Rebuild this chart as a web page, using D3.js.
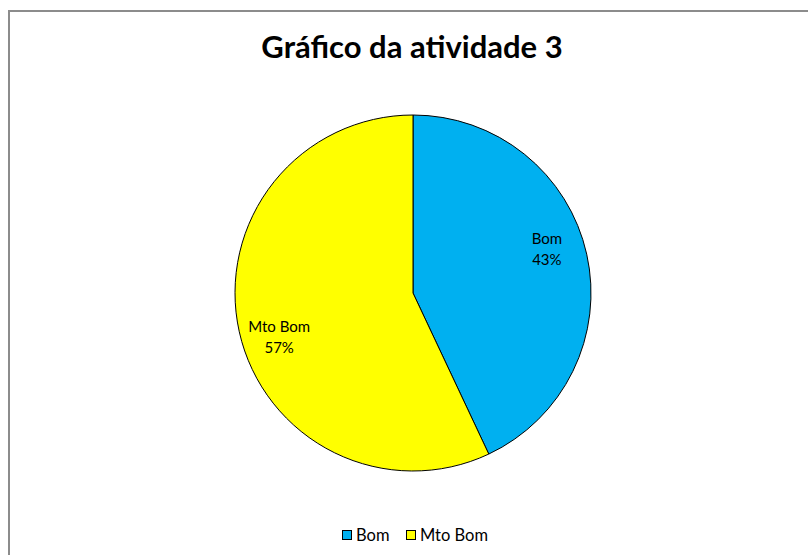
<!DOCTYPE html>
<html>
<head>
<meta charset="utf-8">
<script src="https://cdn.jsdelivr.net/npm/d3@7"></script>
<style>
  html, body { margin: 0; padding: 0; background: #fff; }
  svg { display: block; }
</style>
</head>
<body>
<svg id="chart" width="808" height="555"></svg>
<script>
// Chart data
const categories = ["Bom", "Mto Bom"];
const values = [43, 57];
const percentLabels = ["43%", "57%"];
const colors = ["#00B0F0", "#FFFF00"];
const title = "Gráfico da atividade 3";

const svg = d3.select("#chart");
const W = 808, H = 555;
const font = "Lato, 'Open Sans', sans-serif";

// Chart area frame
svg.append("rect")
  .attr("x", 9).attr("y", 11)
  .attr("width", W).attr("height", H)
  .attr("fill", "#fff")
  .attr("stroke", "#8c8c8c")
  .attr("stroke-width", 2);

// Title
svg.append("text")
  .attr("x", 412).attr("y", 58)
  .attr("text-anchor", "middle")
  .attr("font-family", font)
  .attr("font-weight", "bold")
  .attr("font-size", 31)
  .attr("fill", "#000")
  .text(title);

// Pie
const cx = 413, cy = 293, R = 178;
const pie = d3.pie().sort(null).value(d => d)(values);
const arc = d3.arc().innerRadius(0).outerRadius(R);
const g = svg.append("g").attr("transform", `translate(${cx},${cy})`);

g.selectAll("path.slice")
  .data(pie)
  .join("path")
  .attr("class", "slice")
  .attr("d", arc)
  .attr("fill", (d, i) => colors[i])
  .attr("stroke", "#000")
  .attr("stroke-width", 1);

// Data labels: category name above percentage
const labelR = 141, labelShift = 0.1;
const labels = g.selectAll("g.label")
  .data(pie)
  .join("g")
  .attr("class", "label")
  .attr("transform", d => {
    const a = (d.startAngle + d.endAngle) / 2 - labelShift;
    return `translate(${labelR * Math.sin(a)},${-labelR * Math.cos(a)})`;
  });

labels.append("text")
  .attr("y", -5)
  .attr("text-anchor", "middle")
  .attr("font-family", font)
  .attr("font-size", 15)
  .attr("fill", "#000")
  .text((d, i) => categories[i]);

labels.append("text")
  .attr("y", 16)
  .attr("text-anchor", "middle")
  .attr("font-family", font)
  .attr("font-size", 15)
  .attr("fill", "#000")
  .text((d, i) => percentLabels[i]);

// Legend
const legend = svg.append("g").attr("transform", "translate(342,530)");
const itemX = [0, 64];
categories.forEach((c, i) => {
  const it = legend.append("g").attr("transform", `translate(${itemX[i]},0)`);
  it.append("rect")
    .attr("x", 0.5).attr("y", 0.5)
    .attr("width", 9).attr("height", 9)
    .attr("fill", colors[i])
    .attr("stroke", "#000")
    .attr("stroke-width", 1);
  it.append("text")
    .attr("x", 14).attr("y", 11)
    .attr("font-family", font)
    .attr("font-size", 16.5)
    .attr("fill", "#000")
    .text(c);
});
</script>
</body>
</html>
